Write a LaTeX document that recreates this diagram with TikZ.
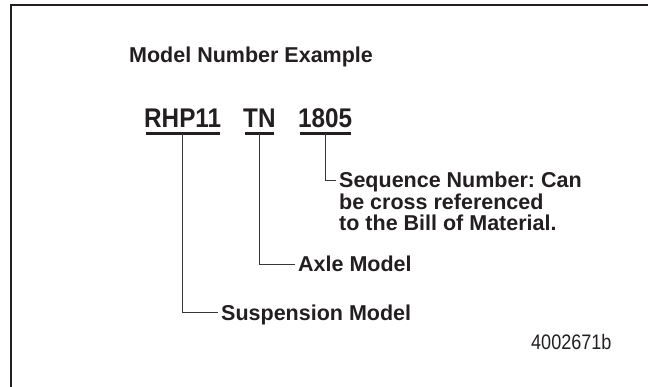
\documentclass[tikz,border=0pt]{standalone}
\usepackage{fontspec}
\setmainfont{Liberation Sans}
\newfontfamily\codefont{Liberation Sans}[FakeStretch=0.9]
\newfontfamily\tagfont{Liberation Sans}[FakeStretch=0.86]
\usetikzlibrary{positioning}
\definecolor{ink}{HTML}{231F20}
\frenchspacing

\begin{document}
\begin{tikzpicture}[
    x=1pt, y=-1pt,
    txt/.style={inner ysep=0pt, inner xsep=3pt, anchor=base west, text=ink, font=\bfseries\fontsize{21.5}{21.5}\selectfont},
    code/.style={inner sep=0pt, anchor=base west, text=ink, font=\codefont\bfseries\fontsize{27}{27}\selectfont},
    uline/.style={draw=ink, line width=2.5pt},
    lead/.style={draw=ink!90, line width=1.2pt}
]
    \useasboundingbox (0,0) rectangle (648,387);
    \draw [ink, line width=2pt] (11,387) -- (11,5) -- (648,5);

    \node [txt] (title) at (126,62.5) {Model Number Example};

    \node [code] (rhp) at (144,128) {RHP11};
    \node [code] (tn) at (243,128) {TN};
    \node [code] (seqno) at (298,128) {1805};

    \foreach \part in {rhp, tn, seqno} {
        \draw [uline] ([xshift=2pt, yshift=-5.5pt]\part.base west) -- ([xshift=-1.5pt, yshift=-5.5pt]\part.base east);
        \coordinate (\part-u) at ([yshift=-5.5pt]\part.base);
    }

    % base of a multi-line node is its last line
    \node [txt, align=left] (seq) at (336,231) {Sequence Number: Can\\be cross referenced\\to the Bill of Material.};
    \node [txt] (axle) at (295,272) {Axle Model};
    \node [txt] (susp) at (218,320) {Suspension Model};
    \node [inner sep=0pt, anchor=base west, text=ink, font=\tagfont\fontsize{21}{21}\selectfont] (fig) at (531,349) {4002671b};

    \path [lead] (seqno-u) |- ([yshift=50.7pt]seq.base west);
    \path [lead] (tn-u) |- ([yshift=7.7pt]axle.base west);
    \path [lead] (rhp-u) |- ([yshift=7.7pt]susp.base west);
\end{tikzpicture}
\end{document}
